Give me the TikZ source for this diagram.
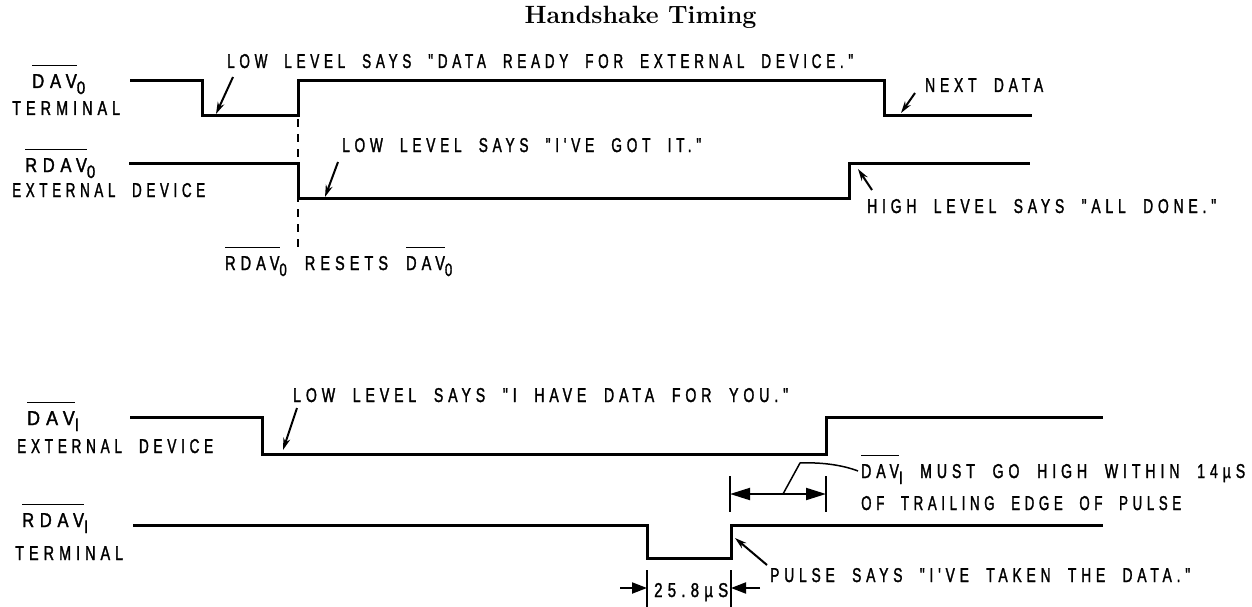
\documentclass[tikz,border=0pt]{standalone}
\usepackage{fontspec}
\usetikzlibrary{arrows.meta}
\newfontfamily\lblfont[FakeStretch=0.72,FakeBold=1.5,WordSpace=2,Ligatures=TeXOff]{Liberation Sans}
\newcommand\ovl[1]{\vbox{\hrule height 1.6pt\kern 8pt\hbox{#1}}}
\newcommand\subs[1]{\raisebox{-6pt}{\fontsize{18}{18}\selectfont #1}}
\newcommand\fw[2]{\resizebox{#1pt}{\height}{#2}}
\tikzset{
  sig/.style={line width=3pt, line join=miter},
  ptr/.style={line width=2pt, -{Stealth[length=12pt,width=7pt]}},
  lbl/.style={inner sep=0pt, anchor=base west, font=\lblfont\fontsize{20}{21}\selectfont\addfontfeature{LetterSpace=25}},
  dim/.style={line width=2pt},
  dimarr/.style={line width=2pt, -{Triangle[length=15pt,width=11pt]}},
}
\begin{document}
\begin{tikzpicture}[x=1pt,y=-1pt]
\useasboundingbox (0,0) rectangle (1252,607);
% title
\node[inner sep=0pt, anchor=base, font=\bfseries\fontsize{25}{25}\selectfont] (title) at (640.5,24) {Handshake Timing};
% left labels top
\node[lbl] (ldav0) at (32,88) {\fw{53}{\ovl{DAV}\subs{0}}};
\node[lbl] (lterm0) at (12,115) {\fw{108}{TERMINAL}};
\node[lbl] (lrdav0) at (25,172) {\fw{70}{\ovl{RDAV}\subs{0}}};
\node[lbl] (lext0) at (12,197) {\fw{193}{EXTERNAL DEVICE}};
% waveforms top
\draw[sig] (130,81) -- (202,81) -- (202,116) -- (298,116) -- (298,81) -- (884,81) -- (884,116) -- (1032,116);
\draw[sig] (129,163) -- (298,163) -- (298,198) -- (849,198) -- (849,163) -- (1030,163);
\draw[line width=1.8pt, dash pattern=on 8pt off 7pt] (298,119) -- (298,247);
% notes top
\node[lbl] (n1) at (227,68) {\fw{626}{LOW LEVEL SAYS "DATA READY FOR EXTERNAL DEVICE."}};
\node[lbl] (n2) at (342,152) {\fw{359}{LOW LEVEL SAYS "I'VE GOT IT."}};
\node[lbl] (n3) at (925,92) {\fw{118}{NEXT DATA}};
\node[lbl] (n4) at (867,213) {\fw{349}{HIGH LEVEL SAYS "ALL DONE."}};
\node[lbl] (n5) at (225,270) {\fw{227}{\ovl{RDAV}\subs{0} RESETS \ovl{DAV}\subs{0}}};
\coordinate (a1s) at (233,77); \coordinate (a1e) at (216,114);
\coordinate (a2s) at (338,162); \coordinate (a2e) at (325,197);
\coordinate (a3s) at (915,93); \coordinate (a3e) at (901,113);
\coordinate (a4s) at (872,190); \coordinate (a4e) at (858,169);
\draw[ptr] (a1s) -- (a1e);
\draw[ptr] (a2s) -- (a2e);
\draw[ptr] (a3s) -- (a3e);
\draw[ptr] (a4s) -- (a4e);
% left labels bottom
\node[lbl] (ldav1) at (27,425) {\fw{52}{\ovl{DAV}\subs{I}}};
\node[lbl] (lext1) at (17,453) {\fw{196}{EXTERNAL DEVICE}};
\node[lbl] (lrdav1) at (22,527) {\fw{66}{\ovl{RDAV}\subs{I}}};
\node[lbl] (lterm1) at (15,560) {\fw{108}{TERMINAL}};
% waveforms bottom
\draw[sig] (130,417) -- (262,417) -- (262,454) -- (826,454) -- (826,417) -- (1103,417);
\draw[sig] (133,525) -- (647,525) -- (647,558) -- (731,558) -- (731,525) -- (1103,525);
% notes bottom
\node[lbl] (n6) at (293,402) {\fw{495}{LOW LEVEL SAYS "I HAVE DATA FOR YOU."}};
\coordinate (a5s) at (297,408); \coordinate (a5e) at (283,450);
\draw[ptr] (a5s) -- (a5e);
\node[lbl] (n7) at (861,478) {\fw{384}{\ovl{DAV}\subs{I} MUST GO HIGH WITHIN 14µS}};
\node[lbl] (n8) at (861,510) {\fw{320}{OF TRAILING EDGE OF PULSE}};
\node[lbl] (n9) at (770,582) {\fw{420}{PULSE SAYS "I'VE TAKEN THE DATA."}};
\coordinate (a6s) at (767,565); \coordinate (a6e) at (735,538);
\draw[ptr] (a6s) -- (a6e);
% 14us dimension
\coordinate (d1t) at (730,476); \coordinate (d1b) at (730,512);
\coordinate (d2t) at (826,476); \coordinate (d2b) at (826,512);
\coordinate (d1m) at (730,494); \coordinate (d2m) at (826,494);
\draw[dim] (d1t) -- (d1b);
\draw[dim] (d2t) -- (d2b);
\draw[line width=2pt, {Triangle[length=20pt,width=12pt]}-{Triangle[length=20pt,width=12pt]}] (d1m) -- (d2m);
\coordinate (ld0) at (783,494); \coordinate (ld1) at (800,463); \coordinate (ld2) at (858,471);
\draw[line width=1.5pt] (ld0) -- (ld1) .. controls (825,462) and (845,466) .. (ld2);
% 25.8us dimension
\coordinate (p1t) at (647,570); \coordinate (p1b) at (647,607);
\coordinate (p2t) at (731,570); \coordinate (p2b) at (731,607);
\draw[dim] (p1t) -- (p1b);
\draw[dim] (p2t) -- (p2b);
\coordinate (p1o) at (620,588); \coordinate (p1i) at (647,588);
\coordinate (p2o) at (760,588); \coordinate (p2i) at (731,588);
\draw[dimarr] (p1o) -- (p1i);
\draw[dimarr] (p2o) -- (p2i);
\node[lbl] (n10) at (654,597) {\fw{74}{25.8µS}};
\end{tikzpicture}
\end{document}
